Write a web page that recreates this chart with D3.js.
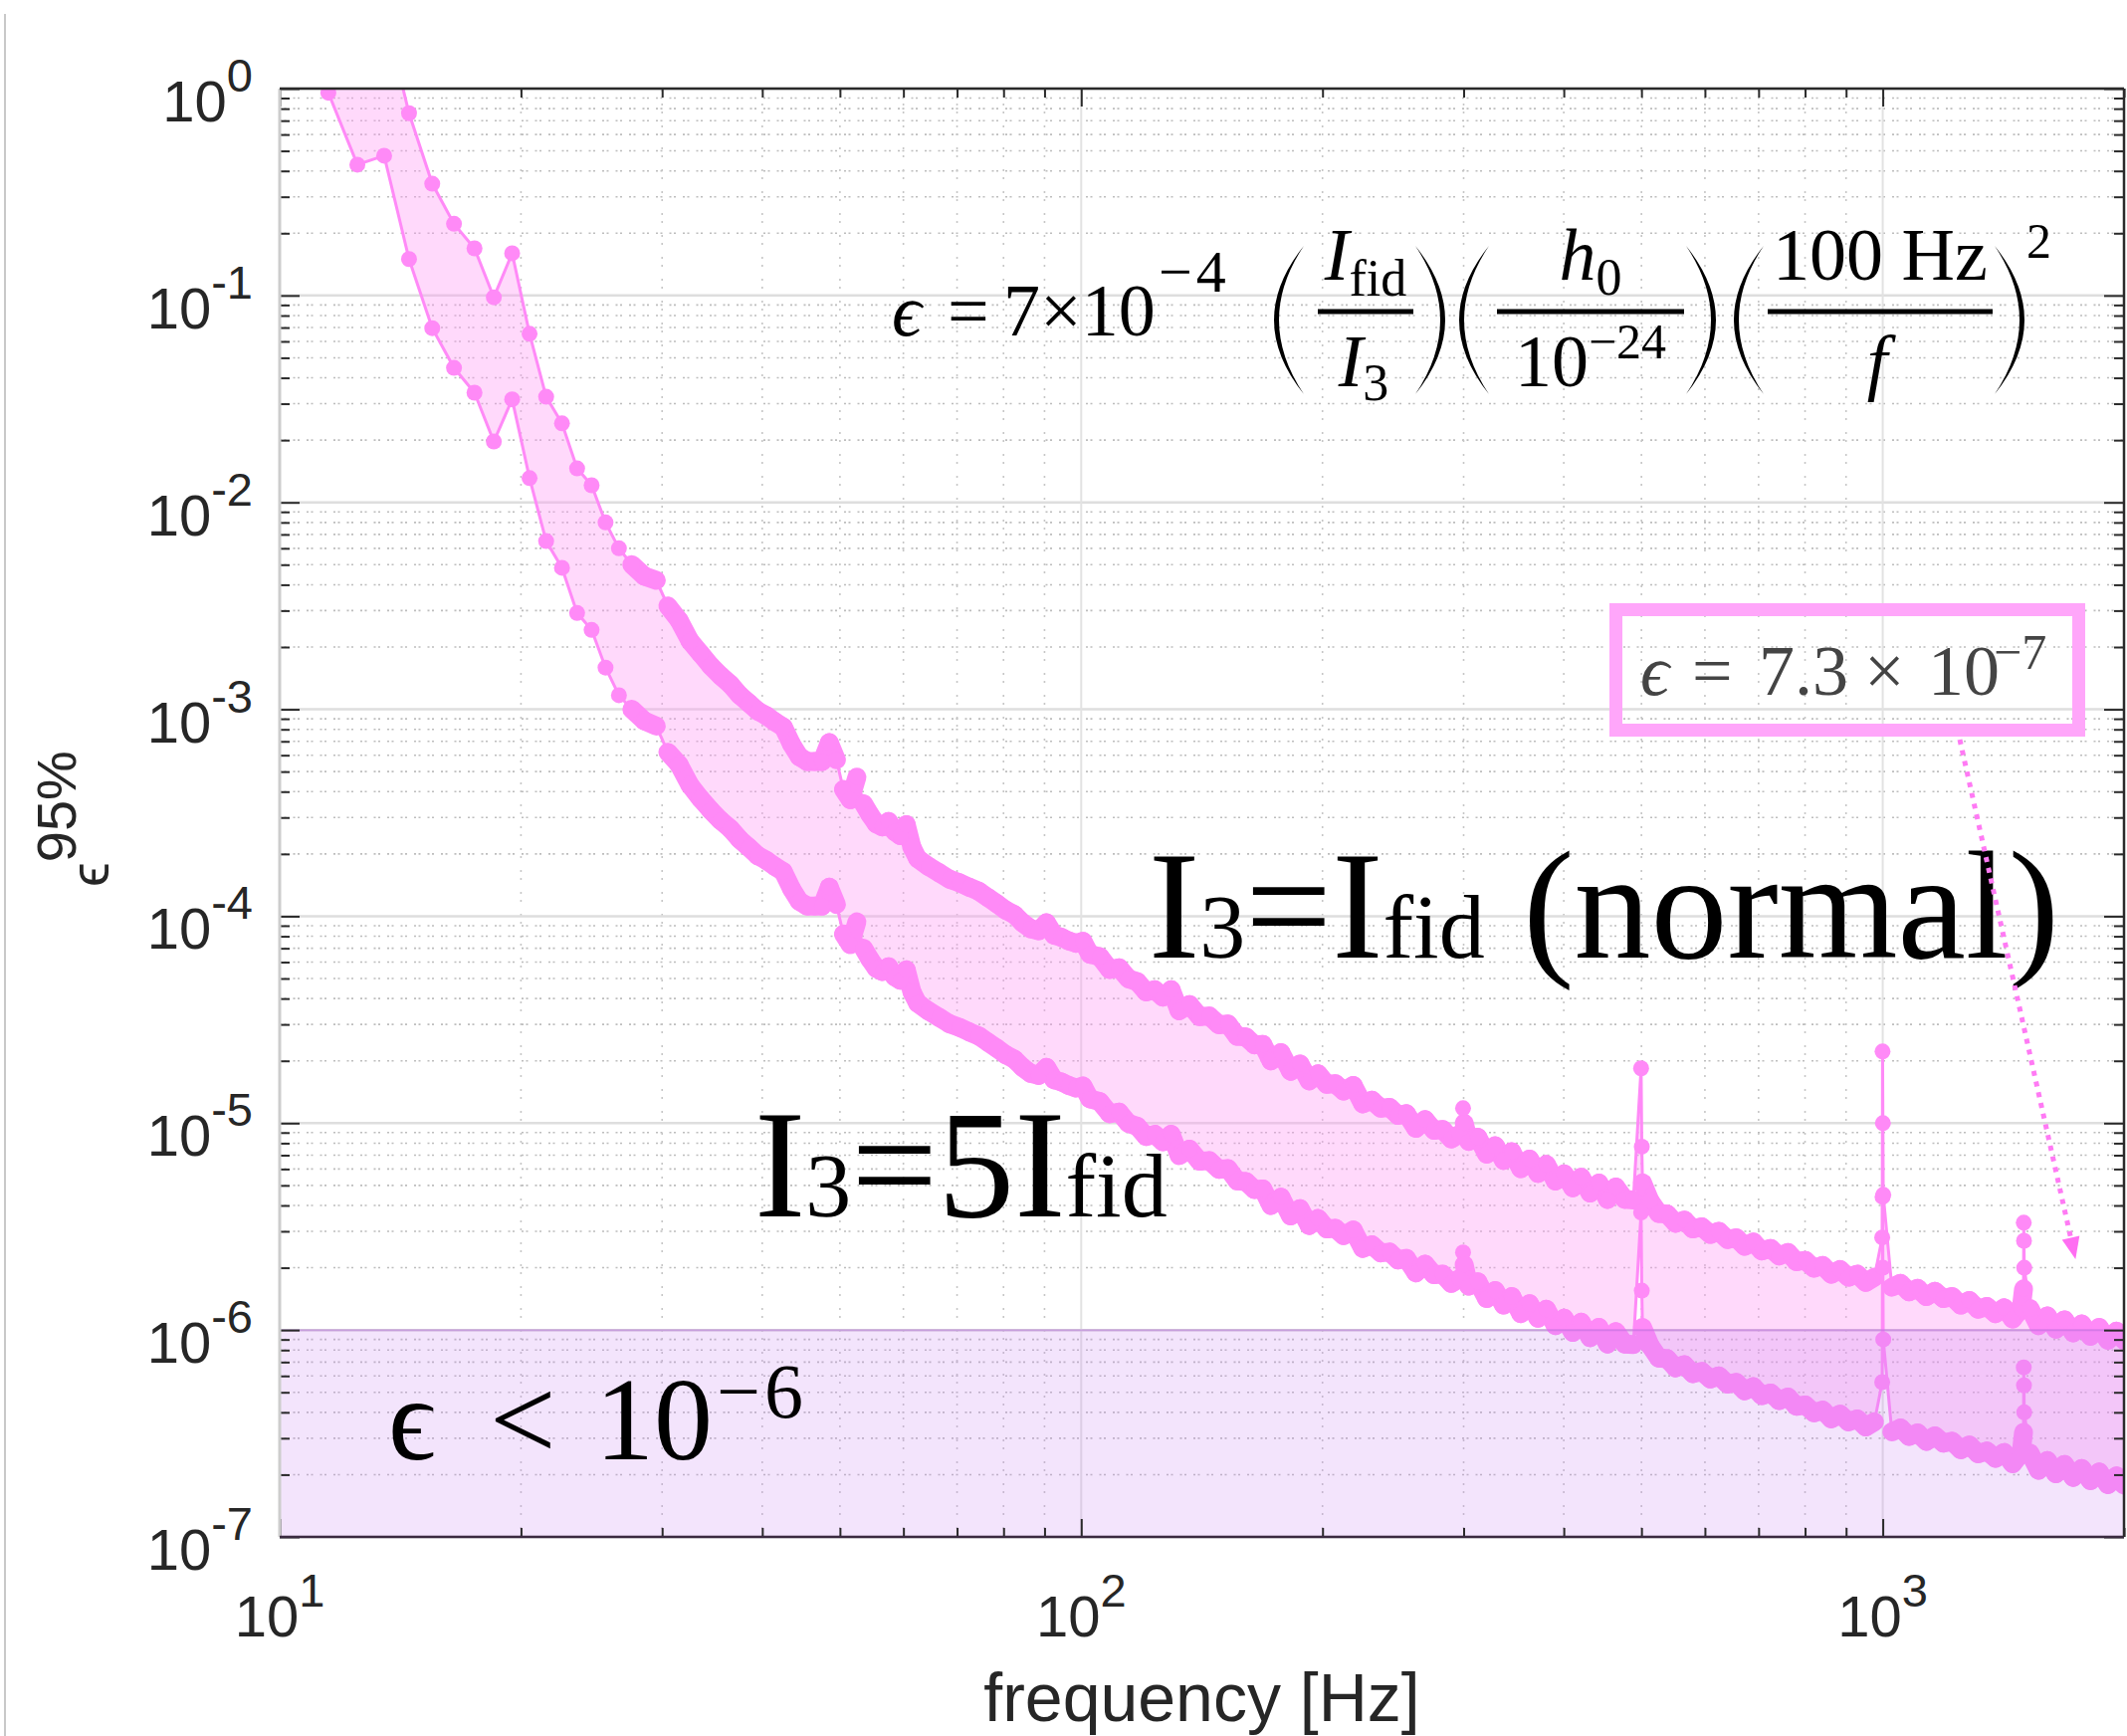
<!DOCTYPE html>
<html>
<head>
<meta charset="utf-8">
<script src="https://cdn.jsdelivr.net/npm/d3@7"></script>
<style>
  html, body { margin: 0; padding: 0; background: #ffffff; }
  svg { display: block; }
</style>
</head>
<body>
<svg id="chart" width="2137" height="1744"></svg>
<script>
// ---------------------------------------------------------------
// 95% upper limits on the ellipticity versus signal frequency
// ---------------------------------------------------------------

// Frequency bins [Hz]
const freqHz = [
  11.5, 12.5, 13.5, 14.5, 15.5, 16.5, 17.5, 18.5, 19.5, 20.5,
  21.5, 22.5, 23.5, 24.5, 25.5, 26.5, 27.5, 28.5, 29.5, 30.5,
  31.5, 32.5, 33.5, 34.5, 35.5, 36.5, 37.5, 38.5, 39.5, 40.5,
  41.5, 42.5, 43.5, 44.5, 45.5, 46.5, 47.5, 48.5, 49.5, 50.5,
  51.5, 52.5, 53.5, 54.5, 55.5, 56.5, 57.5, 58.5, 59.5, 60.5,
  61.5, 62.5, 64.5, 66.5, 68.5, 70.5, 72.5, 74.5, 76.5, 78.5,
  80.5, 82.5, 84.5, 86.5, 88.5, 90.5, 92.5, 94.5, 96.5, 98.5,
  100.5, 102.5, 105.5, 108.5, 111.5, 114.5, 117.5, 120.5, 123.5, 126.5,
  129.5, 132.5, 136.5, 140.5, 144.5, 148.5, 152.5, 156.5, 160.5, 164.5,
  168.5, 172.5, 177.5, 182.5, 187.5, 192.5, 197.5, 202.5, 207.5, 212.5,
  218.5, 224.5, 230.5, 236.5, 242.5, 248.5, 254.5, 261.5, 268.5, 275.5,
  282.5, 289.5, 296.5, 299.5, 300.5, 304.5, 312.5, 320.5, 328.5, 336.5,
  344.5, 353.5, 362.5, 371.5, 380.5, 390.5, 400.5, 410.5, 420.5, 431.5,
  442.5, 453.5, 464.5, 476.5, 488.5, 499.5, 500.5, 501.5, 512.5, 525.5,
  538.5, 551.5, 565.5, 579.5, 594.5, 609.5, 624.5, 640.5, 656.5, 672.5,
  689.5, 706.5, 724.5, 742.5, 761.5, 780.5, 800.5, 820.5, 841.5, 862.5,
  884.5, 906.5, 929.5, 952.5, 976.5, 998.5, 999.5, 1000.5, 1001.5, 1026.5,
  1052.5, 1078.5, 1105.5, 1133.5, 1161.5, 1190.5, 1220.5, 1251.5, 1282.5, 1315.5,
  1348.5, 1382.5, 1417.5, 1452.5, 1488.5, 1498.5, 1499.5, 1500.5, 1501.5, 1526.5,
  1564.5, 1604.5, 1644.5, 1685.5, 1728.5, 1771.5, 1816.5, 1862.5, 1909.5, 1957.5,
  2000
];

// epsilon^95% for I3 = Ifid (normal)
const epsNormal = [
  4.8, 2.15, 2.37, 0.76, 0.347, 0.222, 0.169, 0.098, 0.160, 0.0653,
  0.0324, 0.0241, 0.0146, 0.0121, 0.0080, 0.0060, 0.0050, 0.0044, 0.0042, 3.16e-3,
  2.69e-3, 2.14e-3, 1.86e-3, 1.62e-3, 1.45e-3, 1.32e-3, 1.17e-3, 1.07e-3, 9.8e-4, 9.3e-4,
  8.7e-4, 8.2e-4, 6.8e-4, 5.9e-4, 5.6e-4, 5.6e-4, 5.6e-4, 6.9e-4, 5.7e-4, 4.1e-4,
  3.66e-4, 4.7e-4, 3.5e-4, 3.1e-4, 2.8e-4, 2.7e-4, 2.87e-4, 2.57e-4, 2.45e-4, 2.77e-4,
  2.15e-4, 1.9e-4, 1.74e-4, 1.62e-4, 1.51e-4, 1.45e-4, 1.38e-4, 1.32e-4, 1.23e-4, 1.15e-4,
  1.07e-4, 1.02e-4, 9.3e-5, 8.7e-5, 8.5e-5, 9.3e-5, 8.1e-5, 7.9e-5, 7.6e-5, 7.4e-5,
  7.56e-5, 6.55e-5, 6.37e-5, 5.53e-5, 5.63e-5, 4.99e-5, 4.82e-5, 4.31e-5, 4.41e-5, 4.06e-5,
  4.41e-5, 3.49e-5, 3.74e-5, 3.27e-5, 3.29e-5, 2.99e-5, 3.01e-5, 2.63e-5, 2.61e-5, 2.39e-5,
  2.40e-5, 2.00e-5, 2.19e-5, 1.78e-5, 1.93e-5, 1.60e-5, 1.73e-5, 1.54e-5, 1.55e-5, 1.43e-5,
  1.52e-5, 1.24e-5, 1.29e-5, 1.18e-5, 1.19e-5, 1.09e-5, 1.11e-5, 9.43e-6, 1.04e-5, 9.23e-6,
  9.31e-6, 8.39e-6, 8.83e-6, 1.18e-5, 1.0e-5, 8.16e-6, 8.54e-6, 7.08e-6, 7.77e-6, 6.60e-6,
  7.27e-6, 6.02e-6, 6.70e-6, 5.71e-6, 6.31e-6, 5.25e-6, 5.68e-6, 4.87e-6, 5.47e-6, 4.59e-6,
  5.13e-6, 4.28e-6, 4.91e-6, 4.28e-6, 4.25e-6, 1.84e-5, 7.7e-6, 5.15e-6, 4.21e-6, 3.66e-6,
  3.63e-6, 3.28e-6, 3.40e-6, 3.08e-6, 3.15e-6, 2.90e-6, 3.00e-6, 2.74e-6, 2.79e-6, 2.54e-6,
  2.66e-6, 2.41e-6, 2.48e-6, 2.28e-6, 2.37e-6, 2.14e-6, 2.17e-6, 1.99e-6, 2.05e-6, 1.86e-6,
  1.96e-6, 1.80e-6, 1.86e-6, 1.70e-6, 1.80e-6, 2.8e-6, 2.22e-5, 1.0e-5, 4.5e-6, 1.61e-6,
  1.68e-6, 1.53e-6, 1.59e-6, 1.45e-6, 1.54e-6, 1.42e-6, 1.45e-6, 1.32e-6, 1.39e-6, 1.26e-6,
  1.30e-6, 1.20e-6, 1.28e-6, 1.13e-6, 1.27e-6, 1.58e-6, 3.3e-6, 2.7e-6, 2.0e-6, 1.27e-6,
  1.05e-6, 1.17e-6, 1.01e-6, 1.12e-6, 9.7e-7, 1.07e-6, 9.33e-7, 1.03e-6, 8.93e-7, 9.87e-7,
  8.9e-7
];

// epsilon^95% for I3 = 5 Ifid
const epsFive = [
  0.955, 0.429, 0.474, 0.150, 0.0695, 0.0447, 0.0339, 0.0197, 0.0315, 0.0131,
  0.0065, 0.00483, 0.00292, 0.00242, 0.00159, 0.00117, 0.00100, 8.8e-4, 8.3e-4, 6.2e-4,
  5.4e-4, 4.3e-4, 3.7e-4, 3.25e-4, 2.9e-4, 2.65e-4, 2.35e-4, 2.15e-4, 1.96e-4, 1.86e-4,
  1.74e-4, 1.64e-4, 1.36e-4, 1.18e-4, 1.12e-4, 1.12e-4, 1.12e-4, 1.38e-4, 1.14e-4, 8.2e-5,
  7.3e-5, 9.4e-5, 7.0e-5, 6.2e-5, 5.6e-5, 5.4e-5, 5.7e-5, 5.1e-5, 4.9e-5, 5.5e-5,
  4.3e-5, 3.8e-5, 3.48e-5, 3.24e-5, 3.02e-5, 2.9e-5, 2.76e-5, 2.64e-5, 2.46e-5, 2.3e-5,
  2.14e-5, 2.04e-5, 1.86e-5, 1.74e-5, 1.7e-5, 1.86e-5, 1.62e-5, 1.58e-5, 1.52e-5, 1.48e-5,
  1.51e-5, 1.31e-5, 1.27e-5, 1.11e-5, 1.13e-5, 9.98e-6, 9.64e-6, 8.62e-6, 8.82e-6, 8.12e-6,
  8.82e-6, 6.98e-6, 7.48e-6, 6.54e-6, 6.58e-6, 5.98e-6, 6.02e-6, 5.26e-6, 5.22e-6, 4.78e-6,
  4.80e-6, 4.00e-6, 4.38e-6, 3.56e-6, 3.86e-6, 3.20e-6, 3.46e-6, 3.08e-6, 3.10e-6, 2.86e-6,
  3.04e-6, 2.48e-6, 2.58e-6, 2.36e-6, 2.38e-6, 2.18e-6, 2.22e-6, 1.89e-6, 2.08e-6, 1.85e-6,
  1.86e-6, 1.68e-6, 1.77e-6, 2.37e-6, 2.07e-6, 1.63e-6, 1.71e-6, 1.42e-6, 1.55e-6, 1.32e-6,
  1.45e-6, 1.20e-6, 1.34e-6, 1.14e-6, 1.26e-6, 1.05e-6, 1.14e-6, 9.74e-7, 1.09e-6, 9.18e-7,
  1.03e-6, 8.56e-7, 9.82e-7, 8.56e-7, 8.5e-7, 3.7e-6, 1.55e-6, 1.03e-6, 8.42e-7, 7.32e-7,
  7.26e-7, 6.56e-7, 6.80e-7, 6.16e-7, 6.30e-7, 5.80e-7, 6.00e-7, 5.48e-7, 5.58e-7, 5.08e-7,
  5.32e-7, 4.82e-7, 4.96e-7, 4.56e-7, 4.74e-7, 4.28e-7, 4.34e-7, 3.98e-7, 4.10e-7, 3.72e-7,
  3.92e-7, 3.60e-7, 3.72e-7, 3.40e-7, 3.60e-7, 5.6e-7, 4.4e-6, 2.0e-6, 9.0e-7, 3.22e-7,
  3.36e-7, 3.06e-7, 3.18e-7, 2.90e-7, 3.08e-7, 2.84e-7, 2.90e-7, 2.64e-7, 2.78e-7, 2.52e-7,
  2.60e-7, 2.40e-7, 2.56e-7, 2.26e-7, 2.54e-7, 3.2e-7, 6.6e-7, 5.4e-7, 4.0e-7, 2.54e-7,
  2.10e-7, 2.34e-7, 2.02e-7, 2.24e-7, 1.94e-7, 2.14e-7, 1.87e-7, 2.06e-7, 1.79e-7, 1.97e-7,
  1.78e-7
];

// Axis decades (tick labels are 10^exp)
const yTickExps = [0, -1, -2, -3, -4, -5, -6, -7];
const xTickExps = [1, 2, 3];

// Shaded region eps < 1e-6 and the highlighted value
const shadedEps = [1e-7, 1e-6];
const quotedEps = 7.3e-7;
const arrowTarget = { f: 1740, eps: 2.2e-6 };

// ---------------------------------------------------------------
const W = 2137, H = 1744;
const svg = d3.select("#chart");

const x = d3.scaleLog().domain([10, 2000]).range([281, 2134]);
const y = d3.scaleLog().domain([1e-7, 1]).range([1544, 89]);
const [X0, X1] = x.range();
const [Y0, Y1] = y.range(); // Y0 bottom, Y1 top

const PINK = "#ff8af7";
const R = 8;  // marker radius
const SANS = "'Liberation Sans', Arial, Helvetica, sans-serif";
const SERIF = "'Liberation Serif', 'Times New Roman', serif";
const isDecade = v => Math.abs(Math.log10(v) - Math.round(Math.log10(v))) < 1e-9;

// thin frame line on the far left of the canvas
svg.append("line")
  .attr("x1", 5).attr("x2", 5).attr("y1", 14).attr("y2", H)
  .attr("stroke", "#c8c8c8").attr("stroke-width", 2);

svg.append("defs").append("clipPath").attr("id", "plot-clip")
  .append("rect").attr("x", X0).attr("y", Y1).attr("width", X1 - X0).attr("height", Y0 - Y1);

// ---------------- grid ----------------
const grid = svg.append("g");
const yTicksAll = y.ticks();
const xTicksAll = x.ticks().filter(v => v > 10 && v < 2000);

grid.selectAll("line.ymin").data(yTicksAll.filter(v => !isDecade(v))).join("line")
  .attr("x1", X0).attr("x2", X1).attr("y1", d => y(d)).attr("y2", d => y(d))
  .attr("stroke", "#bdbdbd").attr("stroke-width", 1.6).attr("stroke-dasharray", "2,2.5,2,7");
grid.selectAll("line.xmin").data(xTicksAll.filter(v => !isDecade(v))).join("line")
  .attr("y1", Y0).attr("y2", Y1).attr("x1", d => x(d)).attr("x2", d => x(d))
  .attr("stroke", "#c6c6c6").attr("stroke-width", 1.6).attr("stroke-dasharray", "2,6,2,12");
grid.selectAll("line.ymaj").data(yTicksAll.filter(isDecade)).join("line")
  .attr("x1", X0).attr("x2", X1).attr("y1", d => y(d)).attr("y2", d => y(d))
  .attr("stroke", "#dedede").attr("stroke-width", 2.5);
grid.selectAll("line.xmaj").data(xTicksAll.filter(isDecade)).join("line")
  .attr("y1", Y0).attr("y2", Y1).attr("x1", d => x(d)).attr("x2", d => x(d))
  .attr("stroke", "#e2e2e2").attr("stroke-width", 2);

// ---------------- data ----------------
const rows = freqHz.map((f, i) => ({ f, hi: epsNormal[i], lo: epsFive[i] }));
const plot = svg.append("g").attr("clip-path", "url(#plot-clip)");

plot.append("path").datum(rows)
  .attr("d", d3.area().x(d => x(d.f)).y0(d => y(d.lo)).y1(d => y(d.hi)))
  .attr("fill", "rgba(255,150,245,0.36)");

["hi", "lo"].forEach(key => {
  // connecting line
  plot.append("path").datum(rows)
    .attr("d", d3.line().x(d => x(d.f)).y(d => y(d[key])))
    .attr("fill", "none").attr("stroke", PINK).attr("stroke-width", 3);
  // where neighbouring markers overlap, they merge into a continuous trace
  const segs = d3.pairs(rows).filter(([a, b]) => {
    const dx = x(b.f) - x(a.f), dy = Math.abs(y(b[key]) - y(a[key]));
    return dx > 1.5 && dx < 12.5 && dy < 25;
  });
  plot.selectAll("line.seg-" + key).data(segs).join("line")
    .attr("x1", ([a]) => x(a.f)).attr("y1", ([a]) => y(a[key]))
    .attr("x2", ([, b]) => x(b.f)).attr("y2", ([, b]) => y(b[key]))
    .attr("stroke", PINK).attr("stroke-width", 2 * R + 3).attr("stroke-linecap", "round");
  plot.selectAll("circle." + key).data(rows).join("circle")
    .attr("class", key)
    .attr("cx", d => x(d.f)).attr("cy", d => y(d[key])).attr("r", R)
    .attr("fill", PINK);
});

// shaded eps < 1e-6 region
svg.append("rect")
  .attr("x", X0).attr("width", X1 - X0)
  .attr("y", y(shadedEps[1])).attr("height", y(shadedEps[0]) - y(shadedEps[1]))
  .attr("fill", "rgba(200,130,240,0.22)");
svg.append("line")
  .attr("x1", X0).attr("x2", X1).attr("y1", y(shadedEps[1])).attr("y2", y(shadedEps[1]))
  .attr("stroke", "rgba(175,105,215,0.45)").attr("stroke-width", 2);

// ---------------- axes (ticks inside, box) ----------------
const yMaj = yTicksAll.filter(isDecade), yMin = yTicksAll.filter(v => !isDecade(v));
const xMaj = x.ticks().filter(isDecade), xMin = x.ticks().filter(v => !isDecade(v));
const axes = svg.append("g");
function addAxis(gen, tx, ty, vals, size) {
  const g = axes.append("g").attr("transform", `translate(${tx},${ty})`)
    .call(gen.tickValues(vals).tickSize(size).tickSizeOuter(0).tickFormat(() => ""));
  g.select(".domain").remove();
  g.selectAll(".tick line").attr("stroke", "#2a2a2a").attr("stroke-width", 2);
  return g;
}
addAxis(d3.axisLeft(y), X0, 0, yMaj, -20);
addAxis(d3.axisLeft(y), X0, 0, yMin, -10);
addAxis(d3.axisRight(y), X1, 0, yMaj, -20);
addAxis(d3.axisRight(y), X1, 0, yMin, -10);
addAxis(d3.axisBottom(x), 0, Y0, xMaj, -18);
addAxis(d3.axisBottom(x), 0, Y0, xMin, -9);
addAxis(d3.axisTop(x), 0, Y1, xMaj, -18);
addAxis(d3.axisTop(x), 0, Y1, xMin, -9);

// spines
axes.append("line").attr("x1", X0).attr("x2", X0).attr("y1", Y1).attr("y2", Y0)
  .attr("stroke", "#cdcdcd").attr("stroke-width", 3);
axes.append("line").attr("x1", X0).attr("x2", X1).attr("y1", Y1).attr("y2", Y1)
  .attr("stroke", "#2a2a2a").attr("stroke-width", 2.5);
axes.append("line").attr("x1", X0).attr("x2", X1).attr("y1", Y0).attr("y2", Y0)
  .attr("stroke", "#3a2a40").attr("stroke-width", 2.5);
axes.append("line").attr("x1", X1).attr("x2", X1).attr("y1", Y1).attr("y2", Y0)
  .attr("stroke", "#2a2a2a").attr("stroke-width", 2.5);

// tick labels 10^n
const labels = svg.append("g").attr("font-family", SANS).attr("fill", "#262626");
labels.selectAll("text.ylab").data(yTickExps).join("text")
  .attr("x", 254).attr("y", e => y(Math.pow(10, e)) + 33)
  .attr("text-anchor", "end").attr("font-size", 58)
  .each(function (e) {
    const t = d3.select(this);
    t.append("tspan").text("10");
    t.append("tspan").attr("dy", -30).attr("font-size", 47).text(String(e));
  });
labels.selectAll("text.xlab").data(xTickExps).join("text")
  .attr("x", e => x(Math.pow(10, e))).attr("y", 1644)
  .attr("text-anchor", "middle").attr("font-size", 58)
  .each(function (e) {
    const t = d3.select(this);
    t.append("tspan").text("10");
    t.append("tspan").attr("dy", -30).attr("font-size", 47).text(String(e));
  });

// axis titles
labels.append("text")
  .attr("x", (X0 + X1) / 2).attr("y", 1729)
  .attr("text-anchor", "middle").attr("font-size", 68)
  .text("frequency [Hz]");
const yt = labels.append("text")
  .attr("transform", "translate(109,891) rotate(-90)")
  .attr("font-size", 56);
yt.append("tspan").text("\u03F5");
yt.append("tspan").attr("dy", -33).attr("font-size", 56).text("95%");

// ---------------- annotations ----------------
function rich(parent, xPos, yBase, parts, opts = {}) {
  const t = parent.append("text")
    .attr("x", xPos).attr("y", yBase)
    .attr("text-anchor", opts.anchor || "start")
    .attr("font-size", opts.size || 74);
  parts.forEach(p => {
    const s = t.append("tspan").text(p.t);
    if (p.size) s.attr("font-size", p.size);
    if (p.dy) s.attr("dy", p.dy);
    if (p.it) s.attr("font-style", "italic");
  });
  return t;
}

const notes = svg.append("g").attr("font-family", SERIF).attr("fill", "#000");

// curve labels
rich(notes, 1154, 962, [
  { t: "I" }, { t: "3", size: 92 }, { t: "=I", size: 154 }, { t: "fid", size: 92 }, { t: " (normal)", size: 154 }
], { size: 154 });
rich(notes, 758, 1222, [
  { t: "I" }, { t: "3", size: 92 }, { t: "=5I", size: 154 }, { t: "fid", size: 92 }
], { size: 154 });

// eps < 10^-6
const lim = notes.append("text").attr("y", 1466).attr("font-size", 118);
lim.append("tspan").attr("x", 390).text("\u03F5");
lim.append("tspan").attr("x", 492).text("<");
lim.append("tspan").attr("x", 598).text("10");
lim.append("tspan").attr("x", 720).attr("dy", -42).attr("font-size", 78).attr("letter-spacing", 4).text("\u22126");

// formula
const fm = notes.append("g");
rich(fm, 896, 337, [{ t: "\u03F5", it: 1 }]);
rich(fm, 952, 337, [{ t: "=" }]);
rich(fm, 1008, 337, [{ t: "7\u00D710" }]);
rich(fm, 1164, 293, [{ t: "\u22124" }], { size: 60 }).attr("letter-spacing", 4);

function paren(x0, x1, yTop, yBot, open) {
  const mid = (yTop + yBot) / 2, t = 5;
  if (open) {
    return `M${x1},${yTop} Q${2 * x0 - x1},${mid} ${x1},${yBot} Q${2 * (x0 + t) - x1},${mid} ${x1},${yTop} Z`;
  }
  return `M${x0},${yTop} Q${2 * x1 - x0},${mid} ${x0},${yBot} Q${2 * (x1 - t) - x0},${mid} ${x0},${yTop} Z`;
}
const parens = [
  [1280, 1310, true], [1422, 1452, false],
  [1466, 1496, true], [1694, 1724, false],
  [1742, 1772, true], [2004, 2034, false]
];
parens.forEach(([a, b, o]) => fm.append("path").attr("d", paren(a, b, 247, 396, o)).attr("fill", "#000"));

const bars = [[1324, 1420], [1504, 1692], [1776, 2002]];
bars.forEach(([a, b]) => fm.append("rect").attr("x", a).attr("y", 310.5).attr("width", b - a).attr("height", 5).attr("fill", "#000"));

rich(fm, 1372, 281, [{ t: "I", it: 1 }, { t: "fid", size: 52, dy: 16 }], { anchor: "middle" });
rich(fm, 1370, 388, [{ t: "I", it: 1 }, { t: "3", size: 52, dy: 14 }], { anchor: "middle" });
rich(fm, 1598, 281, [{ t: "h", it: 1 }, { t: "0", size: 52, dy: 15 }], { anchor: "middle" });
rich(fm, 1598, 388, [{ t: "10" }, { t: "\u221224", size: 50, dy: -28 }], { anchor: "middle" });
rich(fm, 1889, 281, [{ t: "100 Hz" }], { anchor: "middle" });
rich(fm, 1886, 388, [{ t: "f", it: 1 }], { anchor: "middle" });
rich(fm, 2036, 259, [{ t: "2" }], { size: 50 });

// boxed value with dotted arrow
const box = svg.append("g");
box.append("rect")
  .attr("x", 1623.5).attr("y", 612.5).attr("width", 465).attr("height", 121)
  .attr("fill", "none").attr("stroke", "#ffa6fa").attr("stroke-width", 13);
const bt = box.append("text").attr("y", 698).attr("font-family", SERIF)
  .attr("font-size", 72).attr("fill", "#444");
const expo = Math.floor(Math.log10(quotedEps));
const mant = (quotedEps / Math.pow(10, expo)).toFixed(1);
bt.append("tspan").attr("x", 1648).attr("font-style", "italic").text("\u03F5");
bt.append("tspan").attr("x", 1700).text("=");
bt.append("tspan").attr("x", 1767).text(mant);
bt.append("tspan").attr("x", 1873).text("\u00D7");
bt.append("tspan").attr("x", 1937).text("10");
bt.append("tspan").attr("x", 2003).attr("dy", -26).attr("font-size", 50).text("\u2212" + Math.abs(expo));

const ax0 = 1969, ay0 = 743;
const ax1 = x(arrowTarget.f), ay1 = y(arrowTarget.eps);
const len = Math.hypot(ax1 - ax0, ay1 - ay0);
const ux = (ax1 - ax0) / len, uy = (ay1 - ay0) / len;
const head = 22, hw = 9;
const bx = ax1 - ux * head, by = ay1 - uy * head;
box.append("line")
  .attr("x1", ax0).attr("y1", ay0).attr("x2", bx).attr("y2", by)
  .attr("stroke", "#ff7af4").attr("stroke-width", 5).attr("stroke-dasharray", "5,6");
box.append("polygon")
  .attr("points", `${ax1},${ay1} ${bx + uy * hw},${by - ux * hw} ${bx - uy * hw},${by + ux * hw}`)
  .attr("fill", "#ff6ef2");
</script>
</body>
</html>
